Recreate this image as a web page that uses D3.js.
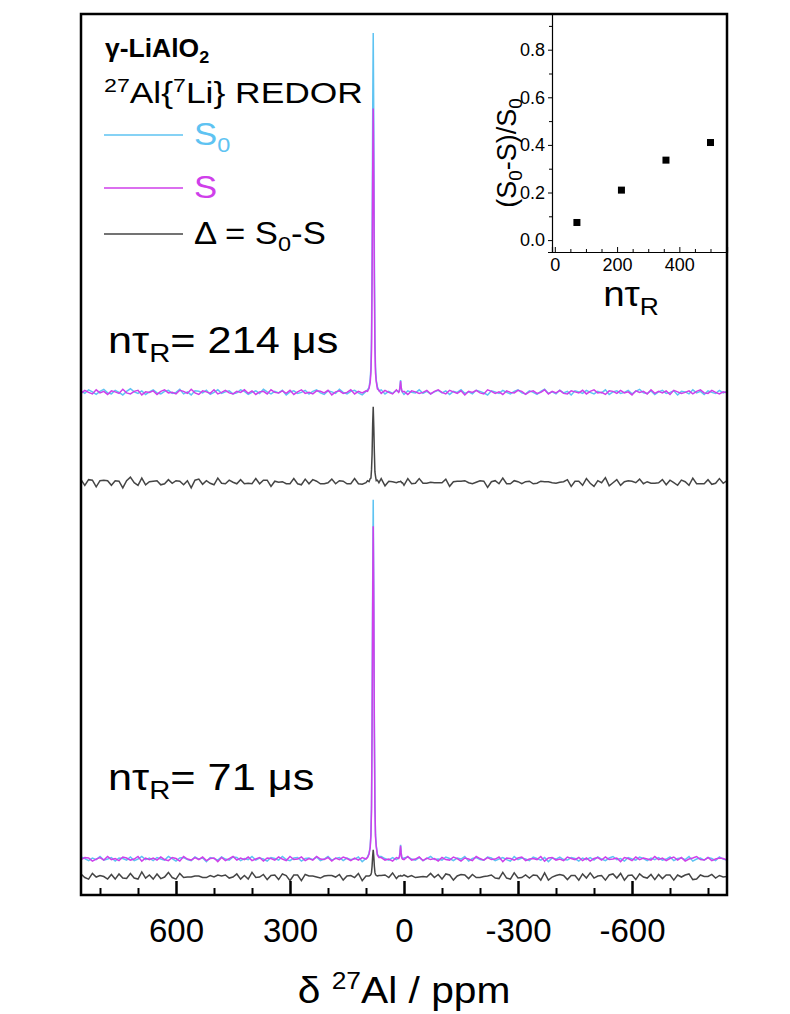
<!DOCTYPE html>
<html>
<head>
<meta charset="utf-8">
<script src="https://cdn.jsdelivr.net/npm/d3@7"></script>
<style>
  body { margin: 0; background: #fff; }
  text { font-family: "Liberation Sans", Arial, sans-serif; }
</style>
</head>
<body>
<div id="chart-area"></div>
<script>
// chemical shift grid of the baseline (ppm)
const ppmGrid = d3.range(850, -851, -10);

// main 27Al line and the small line near 9 ppm
const peakPpm = [96, 92, 89, 87, 85.5, 84, 82.5, 81, 79.5, 78, 76.5, 75, 73, 70, 66];
const smallPpm = [14, 12, 10.5, 9, 7.5, 6, 4];

// nτR = 214 us
const s0_214_noise = [
  3,-2,5,1,-4,2,6,-1,-3,4,0,-5,2,7,1,-2,3,-4,1,
  5,-1,-3,2,4,-2,0,6,-3,1,-5,3,2,-1,4,-4,0,5,-2,
  1,3,-3,-1,5,2,-4,0,3,-2,6,1,-3,2,-1,4,-5,1,3,
  -2,0,4,-3,2,5,-1,-4,3,1,-2,6,0,-3,2,4,-1,-5,2,
  3,-1,0,5,-3,2,-2,4,1,-4,3,0,-1,5,-2,2,-3,1,4,
  -1,3,-4,2,0,5,-2,1,-3,4,2,-1,-5,3,1,-2,4,0,-3,
  2,5,-1,-3,3,0,-4,2,6,-2,1,-3,4,-1,2,-5,3,1,-2,
  4,0,-3,2,-1,5,-4,1,3,-2,0,4,-3,2,6,-1,-2,3,-4,
  1,4,-2,0,3,-5,2,1,-3,5,-1,2,-4,3,0,-2,4,-1,2
];
const s_214_noise = [
  -2,4,0,-3,5,-1,2,-4,3,1,-2,6,-1,-3,2,4,-5,1,0,
  3,-4,2,5,-1,0,-3,4,2,-2,6,-1,-4,3,1,-2,5,-3,0,
  4,-1,-3,2,0,5,-2,3,-4,1,2,-3,5,0,-1,3,-2,4,-4,
  1,5,-2,0,-3,3,2,-1,4,-5,1,3,-2,0,5,-3,2,-1,3,
  -4,2,1,-2,4,0,-3,5,-1,2,-4,3,1,-2,0,4,-3,2,5,
  0,-3,4,1,-2,3,-5,2,0,4,-1,-3,5,2,-2,1,-4,3,0,
  -1,4,2,-4,1,3,-2,0,5,-3,2,-1,4,-2,-3,3,1,-1,4,
  -3,2,5,-1,0,-4,3,2,-2,4,-1,1,-5,3,0,2,-3,5,-2,
  2,-1,3,-4,4,1,-2,0,3,-3,2,5,-1,-2,4,0,-3,1,-1
];
const s0_214_peak = [5, 9, 26, 48, 106, 265, 526, 700, 524, 267, 104, 50, 24, 11, 3];
const s_214_peak = [2, 8, 19, 40, 82, 211, 414, 553, 416, 209, 84, 38, 21, 7, 4];
const s0_214_small = [1, 4, 12, 24, 11, 3, 0];
const s_214_small = [0, 3, 11, 22, 10, 4, 1];

// nτR = 71 us
const s0_71_noise = [
  4,1,-3,2,-1,5,-2,0,3,-4,2,1,-2,4,-3,0,5,-1,2,
  -3,3,0,-2,5,1,-4,2,3,-1,-3,4,0,2,-5,3,1,-2,4,
  0,-2,4,3,-3,1,-1,5,-2,2,0,-4,3,1,-2,5,-1,-3,2,
  3,-4,1,2,-1,4,-3,0,5,-2,1,3,-3,2,-1,0,4,-5,1,
  2,0,-3,5,1,-2,3,-1,-4,2,4,0,-2,3,-3,1,5,-1,0,
  -2,4,1,-3,2,0,5,-4,1,3,-1,-2,4,2,-3,0,3,-1,-4,
  5,-1,2,0,-3,4,1,-2,3,-5,2,0,4,-1,-2,3,1,-4,2,
  -1,3,-2,4,0,-3,2,5,-1,1,-4,3,0,-2,4,1,-3,2,-1,
  3,-2,0,4,-3,1,2,-1,5,-4,0,2,-2,3,1,-3,4,0,-2
];
const s_71_noise = [
  -1,3,2,-4,0,3,-2,5,-1,1,-3,4,2,-2,0,5,-4,2,-1,
  2,-2,4,-1,-3,3,1,-4,5,0,-2,3,-1,4,-3,1,2,-5,3,
  -3,1,5,-2,2,-1,4,-3,0,3,-4,2,1,-2,4,0,-3,5,-1,
  0,4,-3,1,-2,5,0,-1,3,-4,2,-1,4,1,-3,2,-2,3,0,
  4,-3,1,3,-2,0,-4,3,2,-1,5,-2,0,4,-3,2,-1,1,-4,
  3,-1,-2,4,1,-4,2,0,-3,5,1,-2,3,-1,0,4,-5,2,1,
  -2,2,4,-3,0,1,-1,5,-4,2,3,-2,0,-3,4,1,-1,3,-3,
  2,-4,1,3,-2,4,-1,0,2,-5,3,1,-3,4,-1,2,0,-2,5,
  -1,2,-3,1,4,-2,3,-4,0,2,5,-1,-2,3,-3,0,2,1,-2
];
const s0_71_peak = [4, 11, 24, 50, 104, 267, 524, 700, 526, 265, 106, 48, 26, 9, 5];
const s_71_peak = [3, 10, 22, 46, 96, 247, 485, 648, 487, 245, 98, 44, 24, 8, 3];
const s0_71_small = [2, 5, 14, 28, 13, 4, 1];
const s_71_small = [1, 4, 13, 26, 12, 3, 0];

// inset: REDOR dephasing
const ntr = [71, 214, 357, 500];
const dephasing = [0.074, 0.21, 0.336, 0.41];

const xTicks = [600, 300, 0, -300, -600];
const xMinor = d3.range(800, -801, -100);
const insetXTicks = [0, 200, 400];
const insetYTicks = [0, 0.2, 0.4, 0.6, 0.8];

const cyan = "#5ec3f2";
const magenta = "#cf3fea";
const grey = "#454545";

function buildTrace(noise, peak, small) {
  const pts = ppmGrid.map((p, i) => [p, noise[i]])
    .filter(([p]) => !(p > 65 && p < 97) && !(p > 3 && p < 15));
  peakPpm.forEach((p, i) => pts.push([p, peak[i]]));
  smallPpm.forEach((p, i) => pts.push([p, small[i]]));
  return pts.sort((a, b) => b[0] - a[0]);
}

const width = 790, height = 1014;
const mLeft = 81, mRight = 727, mTop = 14, mBottom = 895;

const svg = d3.select("#chart-area").append("svg")
  .attr("width", width).attr("height", height);

// text drawn a bit wider than the font, like the original figure
function wideText(px, py, sx, size) {
  return svg.append("text")
    .attr("transform", `translate(${px},${py}) scale(${sx},1)`)
    .attr("font-size", size);
}

const x = d3.scaleLinear().domain([850, -850]).range([mLeft, mRight]);
const y = d3.scaleLinear().domain([0, 1716]).range([mBottom, mTop]);

const traces = [
  { s0: buildTrace(s0_214_noise, s0_214_peak, s0_214_small), s: buildTrace(s_214_noise, s_214_peak, s_214_small), off: 979, offD: 804 },
  { s0: buildTrace(s0_71_noise, s0_71_peak, s0_71_small), s: buildTrace(s_71_noise, s_71_peak, s_71_small), off: 70, offD: 36 }
];

const plot = svg.append("g");
traces.forEach(t => {
  const diff = t.s0.map((d, i) => [d[0], d[1] - t.s[i][1]]);
  const line = off => d3.line().x(d => x(d[0])).y(d => y(d[1] + off));
  plot.append("path").attr("d", line(t.offD)(diff))
    .attr("fill", "none").attr("stroke", grey).attr("stroke-width", 1.5);
  plot.append("path").attr("d", line(t.off)(t.s0))
    .attr("fill", "none").attr("stroke", cyan).attr("stroke-width", 1.5);
  plot.append("path").attr("d", line(t.off)(t.s))
    .attr("fill", "none").attr("stroke", magenta).attr("stroke-width", 1.5);
});

// x axis (ticks inside)
const xAxis = svg.append("g").attr("transform", `translate(0,${mBottom})`)
  .call(d3.axisBottom(x).tickValues(xTicks).tickSize(-14).tickPadding(24).tickFormat(d => String(d)));
xAxis.select(".domain").remove();
xAxis.selectAll("line").attr("stroke-width", 2.5);
xAxis.selectAll("text").attr("font-size", 33).attr("font-family", "Liberation Sans, Arial, sans-serif").attr("fill", "#000");
const xMin = svg.append("g").attr("transform", `translate(0,${mBottom})`)
  .call(d3.axisBottom(x).tickValues(xMinor.filter(v => !xTicks.includes(v))).tickSize(-7).tickFormat(""));
xMin.select(".domain").remove();
xMin.selectAll("line").attr("stroke-width", 2);

svg.append("rect").attr("x", mLeft).attr("y", mTop)
  .attr("width", mRight - mLeft).attr("height", mBottom - mTop)
  .attr("fill", "none").attr("stroke", "#000").attr("stroke-width", 2.5);

const xl = wideText(404, 1003, 1.1, 37).attr("text-anchor", "middle");
xl.append("tspan").text("δ ");
xl.append("tspan").attr("font-size", 24).attr("dy", -14).text("27");
xl.append("tspan").attr("dy", 14).text("Al / ppm");

// title and legend
wideText(105, 57, 1.06, 25).attr("font-weight", "bold")
  .call(t => { t.append("tspan").text("γ-LiAlO"); t.append("tspan").attr("font-size", 17).attr("dy", 6).text("2"); });
const red = wideText(104, 103, 1.22, 29);
red.append("tspan").attr("font-size", 19).attr("dy", -11).text("27");
red.append("tspan").attr("dy", 11).text("Al{");
red.append("tspan").attr("font-size", 19).attr("dy", -11).text("7");
red.append("tspan").attr("dy", 11).text("Li} REDOR");

const legend = [
  { y: 135, color: cyan, label: ["S", "0", ""] },
  { y: 188, color: magenta, label: ["S", "", ""] },
  { y: 234, color: grey, label: ["Δ = S", "0", "-S"] }
];
legend.forEach(l => {
  svg.append("line").attr("x1", 104).attr("x2", 183).attr("y1", l.y).attr("y2", l.y)
    .attr("stroke", l.color).attr("stroke-width", 1.4);
  const t = wideText(194, l.y + 10, 1.12, 31)
    .attr("fill", l.color === grey ? "#000" : l.color);
  t.append("tspan").text(l.label[0]);
  if (l.label[1]) t.append("tspan").attr("font-size", 21).attr("dy", 7).text(l.label[1]);
  if (l.label[2]) t.append("tspan").attr("dy", -7).text(l.label[2]);
});

function ntrLabel(yPos, val) {
  const t = wideText(108, yPos, 1.17, 37);
  t.append("tspan").text("nτ");
  t.append("tspan").attr("font-size", 25).attr("dy", 9).text("R");
  t.append("tspan").attr("dy", -9).text("= " + val + " μs");
}
ntrLabel(353, 214);
ntrLabel(790, 71);

// inset
const ix = d3.scaleLinear().domain([-9, 553]).range([552, mRight]);
const iy = d3.scaleLinear().domain([-0.05, 0.95]).range([252, mTop]);

const iyAxis = svg.append("g").attr("transform", "translate(552,0)")
  .call(d3.axisLeft(iy).tickValues(insetYTicks).tickSize(4).tickPadding(3).tickFormat(d3.format(".1f")));
iyAxis.select(".domain").attr("stroke-width", 1.2);
iyAxis.selectAll("text").attr("font-size", 18).attr("font-family", "Liberation Sans, Arial, sans-serif");
const iyMin = svg.append("g").attr("transform", "translate(552,0)")
  .call(d3.axisLeft(iy).tickValues([0.1, 0.3, 0.5, 0.7, 0.9]).tickSize(3).tickFormat(""));
iyMin.select(".domain").remove();

const ixAxis = svg.append("g").attr("transform", "translate(0,252)")
  .call(d3.axisBottom(ix).tickValues(insetXTicks).tickSize(-5).tickPadding(6));
ixAxis.select(".domain").attr("stroke-width", 1.2);
ixAxis.selectAll("text").attr("font-size", 18).attr("font-family", "Liberation Sans, Arial, sans-serif");
const ixMin = svg.append("g").attr("transform", "translate(0,252)")
  .call(d3.axisBottom(ix).tickValues([50, 100, 150, 250, 300, 350, 450, 500]).tickSize(-3).tickFormat(""));
ixMin.select(".domain").remove();

svg.append("g").selectAll("rect").data(ntr).enter().append("rect")
  .attr("x", (d, i) => ix(d) - 3.5).attr("y", (d, i) => iy(dephasing[i]) - 3.5)
  .attr("width", 7).attr("height", 7).attr("fill", "#000");

const yt = svg.append("text").attr("transform", "translate(516,153) rotate(-90)")
  .attr("text-anchor", "middle").attr("font-size", 27);
yt.append("tspan").text("(S");
yt.append("tspan").attr("font-size", 19).attr("dy", 6).text("0");
yt.append("tspan").attr("dy", -6).text("-S)/S");
yt.append("tspan").attr("font-size", 19).attr("dy", 6).text("0");

const xt = wideText(631, 306, 1.1, 35).attr("text-anchor", "middle");
xt.append("tspan").text("nτ");
xt.append("tspan").attr("font-size", 24).attr("dy", 9).text("R");
</script>
</body>
</html>
